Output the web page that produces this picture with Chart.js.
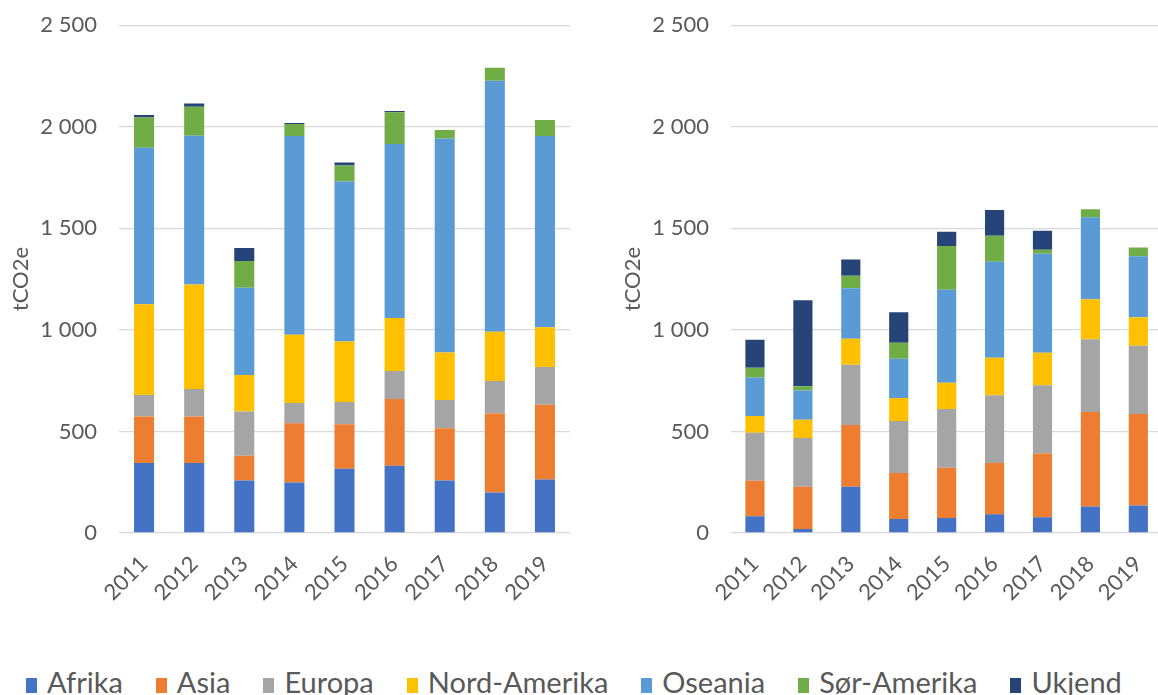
<!DOCTYPE html>
<html lang="no">
  <head>
    <meta charset="utf-8" />
    <title>tCO2e per verdsdel</title>
    <script src="https://cdn.jsdelivr.net/npm/chart.js"></script>
    <style>
      html, body { margin: 0; padding: 0; background: #fff; overflow: hidden; }
      body { width: 1158px; height: 695px; position: relative; font-family: Lato, sans-serif; }
      #left { position: absolute; left: 0; top: -10px; }
      #right { position: absolute; left: 612px; top: -10px; }
      #legend {
        position: absolute; left: 26px; top: 666px;
        display: flex; align-items: center; gap: 33px;
        color: #595959; font-size: 29px; line-height: 32px; white-space: nowrap;
      }
      #legend span.box { display: inline-block; width: 11px; height: 15px; margin-right: 10px; }
    </style>
  </head>
  <body>
    <canvas id="left" width="580" height="640"></canvas>
    <canvas id="right" width="555" height="640"></canvas>
    <div id="legend"></div>
    <script>
      const years = ['2011', '2012', '2013', '2014', '2015', '2016', '2017', '2018', '2019'];
      const regions = ['Afrika', 'Asia', 'Europa', 'Nord-Amerika', 'Oseania', 'Sør-Amerika', 'Ukjend'];
      const colours = ['#4472C4', '#ED7D31', '#A5A5A5', '#FFC000', '#5B9BD5', '#70AD47', '#264478'];
      const yTicks = [0, 500, 1000, 1500, 2000, 2500];

      // left panel
      const leftAfrika = [345, 345, 259, 249, 316, 331, 259, 200, 264];
      const leftAsia = [228, 228, 121, 291, 219, 329, 257, 388, 368];
      const leftEuropa = [106, 136, 218, 100, 110, 137, 139, 160, 185];
      const leftNordAmerika = [447, 514, 180, 336, 298, 261, 234, 243, 196];
      const leftOseania = [771, 733, 430, 979, 787, 857, 1053, 1236, 942];
      const leftSorAmerika = [149, 143, 131, 59, 79, 156, 42, 63, 78];
      const leftUkjend = [12, 16, 64, 5, 15, 7, 0, 0, 0];

      // right panel
      const rightAfrika = [82, 20, 228, 69, 74, 92, 77, 131, 136];
      const rightAsia = [175, 208, 304, 227, 247, 253, 314, 465, 450];
      const rightEuropa = [236, 240, 296, 256, 290, 333, 336, 358, 336];
      const rightNordAmerika = [83, 89, 128, 113, 129, 185, 160, 197, 140];
      const rightOseania = [190, 145, 249, 193, 458, 473, 488, 404, 301];
      const rightSorAmerika = [48, 20, 62, 79, 215, 128, 20, 39, 42];
      const rightUkjend = [137, 424, 79, 150, 70, 126, 93, 0, 0];

      const leftSeries = [leftAfrika, leftAsia, leftEuropa, leftNordAmerika, leftOseania, leftSorAmerika, leftUkjend];
      const rightSeries = [rightAfrika, rightAsia, rightEuropa, rightNordAmerika, rightOseania, rightSorAmerika, rightUkjend];

      const tickColour = '#595959';
      const gridColour = '#d9d9d9';

      function spaced(v) {
        return String(v).replace(/\B(?=(\d{3})+(?!\d))/g, ' ');
      }

      function makeChart(id, series, padRight) {
        return new Chart(document.getElementById(id), {
          type: 'bar',
          data: {
            labels: years,
            datasets: series.map((vals, i) => ({
              label: regions[i],
              data: vals,
              backgroundColor: colours[i],
              borderWidth: 0,
              categoryPercentage: 1,
              barPercentage: 0.4,
            })),
          },
          options: {
            responsive: false,
            animation: false,
            layout: { padding: { top: 14, right: padRight, left: 0, bottom: 0 } },
            plugins: { legend: { display: false }, tooltip: { enabled: false } },
            scales: {
              x: {
                stacked: true,
                grid: { display: false },
                border: { display: false },
                ticks: {
                  color: tickColour,
                  font: { family: 'Lato', size: 22 },
                  minRotation: 45,
                  maxRotation: 45,
                  autoSkip: false,
                  padding: 10,
                },
                afterFit: (s) => { s.height = 97; },
              },
              y: {
                stacked: true,
                min: 0,
                max: 2500,
                afterBuildTicks: (s) => { s.ticks = yTicks.map((v) => ({ value: v })); },
                grid: { color: gridColour, lineWidth: 1.3, drawTicks: false },
                border: { display: false },
                ticks: {
                  color: tickColour,
                  font: { family: 'Lato', size: 22 },
                  padding: 22,
                  callback: (v) => spaced(v),
                },
                title: {
                  display: true,
                  text: 'tCO2e',
                  color: tickColour,
                  font: { family: 'Lato', size: 22 },
                  padding: { top: 8, bottom: 0 },
                },
                afterFit: (s) => { s.width = 119; },
              },
            },
          },
        });
      }

      makeChart('left', leftSeries, 10);
      makeChart('right', rightSeries, 0);

      const legend = document.getElementById('legend');
      regions.forEach((name, i) => {
        const item = document.createElement('div');
        const box = document.createElement('span');
        box.className = 'box';
        box.style.background = colours[i];
        item.appendChild(box);
        item.appendChild(document.createTextNode(name));
        legend.appendChild(item);
      });
    </script>
  </body>
</html>
